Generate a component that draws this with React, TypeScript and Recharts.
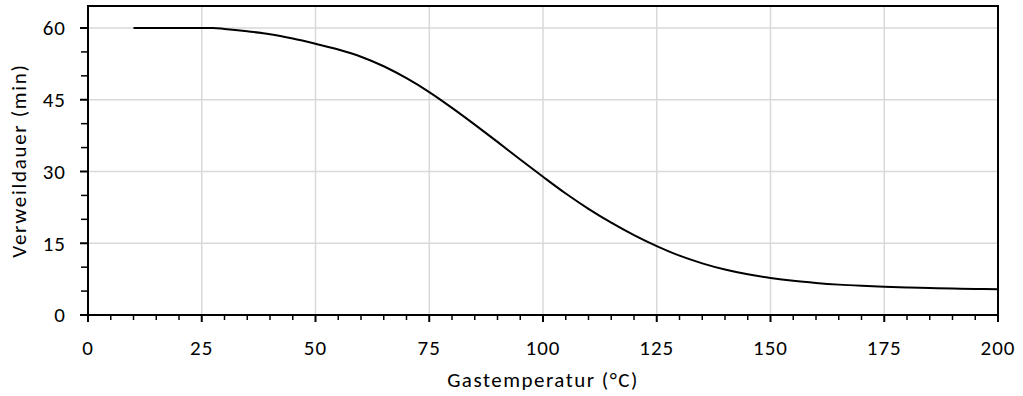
import React from "react";
import { LineChart, Line, XAxis, YAxis, CartesianGrid, Label, ReferenceArea } from "recharts";

const temperatures = [10, 15, 20, 25, 27.5, 30, 35, 40, 45, 50, 55, 60, 65, 70, 75, 80, 85, 90, 95, 100, 105, 110, 115, 120, 125, 130, 135, 140, 145, 150, 155, 160, 165, 170, 175, 180, 185, 190, 195, 200];
const residenceTimes = [60, 60, 60, 60, 60, 59.8, 59.3, 58.7, 57.8, 56.7, 55.5, 54.0, 52.0, 49.5, 46.6, 43.3, 39.8, 36.2, 32.5, 28.9, 25.4, 22.2, 19.3, 16.7, 14.4, 12.4, 10.8, 9.5, 8.5, 7.75, 7.15, 6.7, 6.35, 6.1, 5.9, 5.75, 5.63, 5.53, 5.45, 5.4];

const xMajorTicks = [0, 25, 50, 75, 100, 125, 150, 175, 200];
const xMinorTicks = [5, 10, 15, 20, 30, 35, 40, 45, 55, 60, 65, 70, 80, 85, 90, 95, 105, 110, 115, 120, 130, 135, 140, 145, 155, 160, 165, 170, 180, 185, 190, 195];
const yMajorTicks = [0, 15, 30, 45, 60];
const yMinorTicks = [5, 10, 20, 25, 35, 40, 50, 55];
const xDomain = [0, 200];
const yDomain = [0, 64.6];

const xLabel = "Gastemperatur (°C)";
const yLabel = "Verweildauer (min)";

const data = temperatures.map((t, i) => ({ t, v: residenceTimes[i] }));
const xAllTicks = [...xMajorTicks, ...xMinorTicks].sort((a, b) => a - b);
const yAllTicks = [...yMajorTicks, ...yMinorTicks].sort((a, b) => a - b);

const FONT = "Carlito, Lato, 'Noto Sans', sans-serif";
const TICK_FS = 21;
const LABEL_FS = 21;

function XTick(props: any) {
  const { x, y, payload } = props;
  const major = xMajorTicks.includes(payload.value);
  return (
    <g>
      <line x1={x} x2={x} y1={y} y2={y + (major ? 7 : 5)} stroke="#000" strokeWidth={major ? 2 : 1.5} />
      {major && (
        <text
          x={x}
          y={y + 40}
          textAnchor="middle"
          fontSize={TICK_FS}
          fontFamily={FONT}
          fill="#000"
          letterSpacing={1}
          style={{ fontSize: TICK_FS, fontFamily: FONT }}
        >
          {payload.value}
        </text>
      )}
    </g>
  );
}

function YTick(props: any) {
  const { x, y, payload } = props;
  const major = yMajorTicks.includes(payload.value);
  return (
    <g>
      <line x1={x - (major ? 8 : 7)} x2={x} y1={y} y2={y} stroke="#000" strokeWidth={major ? 2 : 1.5} />
      {major && (
        <text
          x={x - 22}
          y={y}
          dy="0.35em"
          textAnchor="end"
          fontSize={TICK_FS}
          fontFamily={FONT}
          fill="#000"
          letterSpacing={1}
          style={{ fontSize: TICK_FS, fontFamily: FONT }}
        >
          {payload.value}
        </text>
      )}
    </g>
  );
}

function XTitle(props: any) {
  const vb = props.viewBox || {};
  return (
    <text
      x={vb.x + vb.width / 2}
      y={vb.y + 72}
      textAnchor="middle"
      fontSize={LABEL_FS}
      fontFamily={FONT}
      fill="#000"
      letterSpacing={1.5}
      style={{ fontSize: LABEL_FS, fontFamily: FONT }}
    >
      {xLabel}
    </text>
  );
}

function YTitle(props: any) {
  const vb = props.viewBox || {};
  const cx = 19;
  const cy = vb.y + vb.height / 2;
  return (
    <text
      x={cx}
      y={cy}
      dy="0.35em"
      textAnchor="middle"
      transform={`rotate(-90, ${cx}, ${cy})`}
      fontSize={LABEL_FS}
      fontFamily={FONT}
      fill="#000"
      letterSpacing={1.7}
      style={{ fontSize: LABEL_FS, fontFamily: FONT }}
    >
      {yLabel}
    </text>
  );
}

export default function App() {
  return (
    <div style={{ position: "absolute", left: 0, top: 0, background: "#fff" }}>
      <LineChart
        width={1023}
        height={396}
        data={data}
        margin={{ top: 6, right: 25, bottom: 0, left: 0 }}
      >
        <CartesianGrid
          stroke="#d9d9d9"
          strokeWidth={1.5}
          verticalValues={xMajorTicks}
          horizontalValues={yMajorTicks}
          syncWithTicks={false}
        />
        <XAxis
          dataKey="t"
          type="number"
          domain={xDomain}
          ticks={xAllTicks}
          interval={0}
          height={81}
          axisLine={false}
          tickLine={false}
          tickSize={0}
          tickMargin={0}
          tick={<XTick />}
          allowDataOverflow
        >
          <Label content={<XTitle />} />
        </XAxis>
        <YAxis
          type="number"
          domain={yDomain}
          ticks={yAllTicks}
          interval={0}
          width={88}
          axisLine={false}
          tickLine={false}
          tickSize={0}
          tickMargin={0}
          tick={<YTick />}
          allowDataOverflow
        >
          <Label content={<YTitle />} />
        </YAxis>
        <Line
          type="monotone"
          dataKey="v"
          stroke="#000"
          strokeWidth={2}
          dot={false}
          isAnimationActive={false}
        />
        <ReferenceArea
          x1={xDomain[0]}
          x2={xDomain[1]}
          y1={yDomain[0]}
          y2={yDomain[1]}
          fill="none"
          fillOpacity={0}
          stroke="#000"
          strokeWidth={2}
          ifOverflow="visible"
        />
      </LineChart>
    </div>
  );
}
